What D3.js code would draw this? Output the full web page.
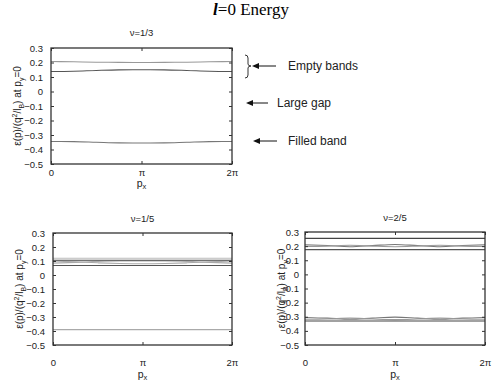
<!DOCTYPE html>
<html>
<head>
<meta charset="utf-8">
<script src="https://cdn.jsdelivr.net/npm/d3@7"></script>
<style>
  body { margin: 0; background: #fff; }
  svg { display: block; }
  .tick text { font-family: "Liberation Sans", Arial, sans-serif; font-size: 9.5px; fill: #222; }
  .tick line { stroke: #333; }
  .lbl { font-family: "Liberation Sans", Arial, sans-serif; fill: #222; }
</style>
</head>
<body>
<div id="chart"></div>
<script>
// sample positions along p_x (multiples of pi/4)
var pxSamples = [0, 1, 2, 3, 4, 5, 6, 7, 8].map(function(k) { return k * Math.PI / 4; });
var yTicks = [0.3, 0.2, 0.1, 0, -0.1, -0.2, -0.3, -0.4, -0.5];
var xTicks = [0, Math.PI, 2 * Math.PI];
var xTickLabels = ["0", "\u03c0", "2\u03c0"];

// nu = 1/3
var nu13_empty1 = [0.207, 0.205, 0.202, 0.201, 0.200, 0.201, 0.202, 0.205, 0.207];
var nu13_empty2 = [0.138, 0.140, 0.145, 0.149, 0.150, 0.149, 0.145, 0.140, 0.138];
var nu13_filled = [-0.345, -0.346, -0.350, -0.354, -0.355, -0.354, -0.350, -0.346, -0.345];

// nu = 1/5
var nu15_a = [0.120, 0.120, 0.120, 0.120, 0.120, 0.120, 0.120, 0.120, 0.120];
var nu15_b = [0.105, 0.105, 0.105, 0.105, 0.105, 0.105, 0.105, 0.105, 0.105];
var nu15_c = [0.100, 0.094, 0.087, 0.082, 0.080, 0.082, 0.087, 0.094, 0.100];
var nu15_d = [0.085, 0.090, 0.097, 0.100, 0.100, 0.100, 0.097, 0.090, 0.085];
var nu15_e = [0.068, 0.068, 0.068, 0.068, 0.068, 0.068, 0.068, 0.068, 0.068];
var nu15_f = [-0.390, -0.390, -0.390, -0.390, -0.390, -0.390, -0.390, -0.390, -0.390];

// nu = 2/5
var nu25_a = [0.255, 0.255, 0.255, 0.255, 0.255, 0.255, 0.255, 0.255, 0.255];
var nu25_b = [0.210, 0.204, 0.196, 0.204, 0.212, 0.204, 0.196, 0.204, 0.210];
var nu25_c = [0.198, 0.200, 0.206, 0.200, 0.196, 0.200, 0.206, 0.200, 0.198];
var nu25_d = [0.175, 0.175, 0.175, 0.175, 0.175, 0.175, 0.175, 0.175, 0.175];
var nu25_e = [-0.305, -0.310, -0.318, -0.310, -0.303, -0.310, -0.318, -0.310, -0.305];
var nu25_f = [-0.318, -0.316, -0.310, -0.316, -0.320, -0.316, -0.310, -0.316, -0.318];
var nu25_g = [-0.330, -0.330, -0.330, -0.330, -0.330, -0.330, -0.330, -0.330, -0.330];

var width = 501, height = 382;
var svg = d3.select("#chart").append("svg").attr("width", width).attr("height", height);

svg.append("text")
    .attr("x", 251).attr("y", 15)
    .attr("text-anchor", "middle")
    .style("font-family", "'Liberation Serif', 'Times New Roman', serif")
    .style("font-size", "17px")
    .html("<tspan style='font-weight:bold;font-style:italic'>l</tspan>=0 Energy");

function panel(opt) {
  var x = d3.scaleLinear().domain([0, 2 * Math.PI]).range([opt.left, opt.right]);
  var y = d3.scaleLinear().domain([-0.5, 0.3]).range([opt.bottom, opt.top]);
  var g = svg.append("g");

  var line = d3.line()
      .curve(d3.curveMonotoneX)
      .x(function(d, i) { return x(pxSamples[i]); })
      .y(function(d) { return y(d); });

  g.selectAll("path.band").data(opt.series).enter()
    .append("path")
      .attr("class", "band")
      .attr("d", function(s) { return line(s.values); })
      .style("fill", "none")
      .style("stroke", function(s) { return s.color; })
      .style("stroke-width", 1.1);

  var yl = g.append("g").attr("transform", "translate(" + opt.left + ",0)")
      .call(d3.axisLeft(y).tickValues(yTicks).tickSize(-3).tickPadding(opt.ypad)
        .tickFormat(function(d) { return d === 0 ? "0" : d3.format(".1f")(d); }));
  var yr = g.append("g").attr("transform", "translate(" + opt.right + ",0)")
      .call(d3.axisRight(y).tickValues(yTicks).tickSize(-3).tickFormat(""));
  var xb = g.append("g").attr("transform", "translate(0," + opt.bottom + ")")
      .call(d3.axisBottom(x).tickValues(xTicks).tickSize(-3).tickPadding(opt.xpad)
        .tickFormat(function(d, i) { return xTickLabels[i]; }));
  var xt = g.append("g").attr("transform", "translate(0," + opt.top + ")")
      .call(d3.axisTop(x).tickValues(xTicks).tickSize(-3).tickFormat(""));
  [yl, yr, xb, xt].forEach(function(a) { a.select(".domain").remove(); });

  g.append("rect")
      .attr("x", opt.left).attr("y", opt.top)
      .attr("width", opt.right - opt.left).attr("height", opt.bottom - opt.top)
      .style("fill", "none").style("stroke", "#333").style("stroke-width", 1.3);

  g.append("text").attr("class", "lbl")
      .attr("x", (opt.left + opt.right) / 2).attr("y", opt.titleY)
      .attr("text-anchor", "middle").style("font-size", "9.5px")
      .text(opt.title);

  var px = g.append("text").attr("class", "lbl")
      .attr("x", (opt.left + opt.right) / 2).attr("y", opt.pxY)
      .attr("text-anchor", "middle").style("font-size", "10.5px");
  px.append("tspan").text("p");
  px.append("tspan").attr("dy", 2).style("font-size", "7.5px").text("x");

  var yt = g.append("text").attr("class", "lbl")
      .attr("transform", "translate(" + opt.ylabX + "," + ((opt.top + opt.bottom) / 2) + ") rotate(-90)")
      .attr("text-anchor", "middle").style("font-size", "10px");
  yt.append("tspan").text("\u03b5(p)/(q");
  yt.append("tspan").attr("dy", -4).style("font-size", "7px").text("2");
  yt.append("tspan").attr("dy", 4).text("/l");
  yt.append("tspan").attr("dy", 3).style("font-size", "7px").text("B");
  yt.append("tspan").attr("dy", -3).text(") at p");
  yt.append("tspan").attr("dy", 3).style("font-size", "7px").text("y");
  yt.append("tspan").attr("dy", -3).text("=0");
}

panel({
  left: 51, right: 232, top: 48, bottom: 164, ypad: 8, xpad: 5,
  titleY: 36, pxY: 187, ylabX: 21, title: "\u03bd=1/3",
  series: [
    {values: nu13_empty1, color: "#999"},
    {values: nu13_empty2, color: "#555"},
    {values: nu13_filled, color: "#777"}
  ]
});

panel({
  left: 53, right: 232, top: 233, bottom: 345, ypad: 8, xpad: 14,
  titleY: 222, pxY: 378, ylabX: 23, title: "\u03bd=1/5",
  series: [
    {values: nu15_a, color: "#bbb"},
    {values: nu15_c, color: "#aaa"},
    {values: nu15_d, color: "#aaa"},
    {values: nu15_b, color: "#444"},
    {values: nu15_e, color: "#555"},
    {values: nu15_f, color: "#aaa"}
  ]
});

panel({
  left: 305, right: 485, top: 232, bottom: 345, ypad: 6, xpad: 14,
  titleY: 221, pxY: 378, ylabX: 285, title: "\u03bd=2/5",
  series: [
    {values: nu25_a, color: "#444"},
    {values: nu25_b, color: "#777"},
    {values: nu25_c, color: "#999"},
    {values: nu25_d, color: "#555"},
    {values: nu25_e, color: "#777"},
    {values: nu25_f, color: "#999"},
    {values: nu25_g, color: "#444"}
  ]
});

// annotations for the nu=1/3 panel
var notes = [
  {text: "Empty bands", y: 66, x1: 252, x2: 276, tx: 288},
  {text: "Large gap", y: 103, x1: 246, x2: 268, tx: 277},
  {text: "Filled band", y: 141, x1: 253, x2: 277, tx: 288}
];

notes.forEach(function(n) {
  svg.append("line")
      .attr("x1", n.x1 + 5).attr("x2", n.x2).attr("y1", n.y).attr("y2", n.y)
      .style("stroke", "#111").style("stroke-width", 1);
  svg.append("path")
      .attr("d", "M" + n.x1 + "," + n.y + " l7,-3 l0,6 Z")
      .style("fill", "#111");
  svg.append("text").attr("class", "lbl")
      .attr("x", n.tx).attr("y", n.y + 4)
      .style("font-size", "12px").text(n.text);
});

// brace grouping the empty bands
svg.append("path")
    .attr("d", "M245,55 Q248,55 248,58 L248,64 Q248,66 251,66 Q248,66 248,68 L248,75 Q248,78 245,78")
    .style("fill", "none").style("stroke", "#333").style("stroke-width", 1);
</script>
</body>
</html>
